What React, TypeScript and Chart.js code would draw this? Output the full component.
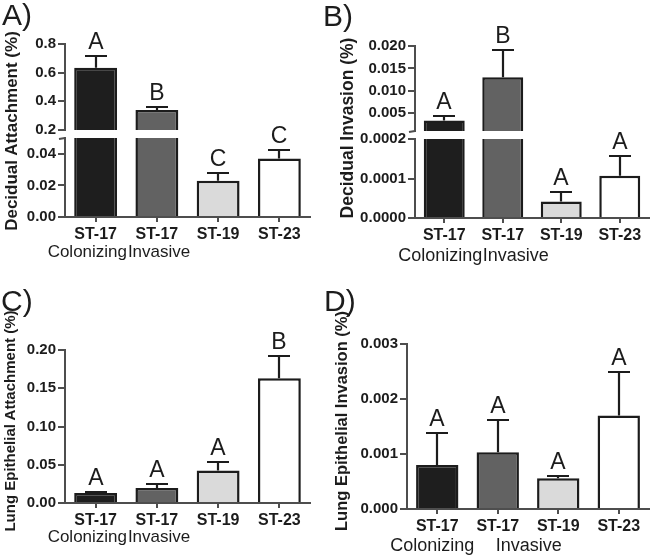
import React, { useEffect, useRef } from "react";
import { Chart, registerables } from "chart.js";

Chart.register(...registerables);

// ---------- data ----------
const categories = ["ST-17", "ST-17", "ST-19", "ST-23"];
const strainGroups = ["Colonizing", "Invasive"];

const decidualAttachment = [0.634, 0.339, 0.023, 0.037];
const decidualAttachmentSem = [0.08, 0.023, 0.005, 0.0055];
const decidualAttachmentGroups = ["A", "B", "C", "C"];

const decidualInvasion = [0.00336, 0.013, 0.000042, 0.000107];
const decidualInvasionSem = [0.00104, 0.0062, 0.000024, 0.00005];
const decidualInvasionGroups = ["A", "B", "A", "A"];

const lungAttachment = [0.013, 0.0196, 0.0426, 0.1632];
const lungAttachmentSem = [0.0015, 0.0056, 0.0104, 0.029];
const lungAttachmentGroups = ["A", "A", "A", "B"];

const lungInvasion = [0.0008, 0.00103, 0.00056, 0.0017];
const lungInvasionSem = [0.00058, 0.00058, 0.00004, 0.00079];
const lungInvasionGroups = ["A", "A", "A", "A"];

const ticksAUpper = [0.2, 0.4, 0.6, 0.8];
const ticksALower = [0, 0.02, 0.04];
const ticksBUpper = [0.005, 0.01, 0.015, 0.02];
const ticksBLower = [0, 0.0001, 0.0002];
const ticksC = [0, 0.05, 0.1, 0.15, 0.2];
const ticksD = [0, 0.001, 0.002, 0.003];

// ---------- styles ----------
const FONT = '"Liberation Sans", Arial, Helvetica, sans-serif';
const INK = "#1c1c1c";
const AXIS = "#4e4e4e";
const BAR_FILLS = ["#1e1e1e", "#626262", "#dadada", "#ffffff"];

type Segment = {
  box: [number, number, number, number];
  area: [number, number, number, number];
  min: number;
  max: number;
  ticks: number[];
  digits: number;
  xAxis: boolean;
  breakTop?: boolean;
  breakBottom?: boolean;
};

type PanelSpec = {
  values: number[];
  sem: number[];
  groups: string[];
  segments: Segment[];
  sub: { size: number; dx: number[]; dy: number };
};

const panels: PanelSpec[] = [
  {
    values: decidualAttachment,
    sem: decidualAttachmentSem,
    groups: decidualAttachmentGroups,
    segments: [
      { box: [0, 15, 325, 130], area: [65, 44, 310, 130], min: 0.2, max: 0.8, ticks: ticksAUpper, digits: 1, xAxis: false },
      { box: [0, 112, 325, 168], area: [65, 138, 310, 217], min: 0, max: 0.05, ticks: ticksALower, digits: 2, xAxis: true, breakTop: true },
    ],
    sub: { size: 17, dx: [-48, -29], dy: 39.5 },
  },
  {
    values: decidualInvasion,
    sem: decidualInvasionSem,
    groups: decidualInvasionGroups,
    segments: [
      { box: [325, 15, 325, 130], area: [415, 46, 649, 131], min: 0.001, max: 0.02, ticks: ticksBUpper, digits: 3, xAxis: false, breakBottom: true },
      { box: [325, 112, 325, 168], area: [415, 139, 649, 218], min: 0, max: 0.0002, ticks: ticksBLower, digits: 4, xAxis: true },
    ],
    sub: { size: 18, dx: [-46, -20], dy: 42.5 },
  },
  {
    values: lungAttachment,
    sem: lungAttachmentSem,
    groups: lungAttachmentGroups,
    segments: [
      { box: [0, 300, 325, 255], area: [65, 350, 310, 503], min: 0, max: 0.2, ticks: ticksC, digits: 2, xAxis: true },
    ],
    sub: { size: 17, dx: [-48, -29], dy: 38.5 },
  },
  {
    values: lungInvasion,
    sem: lungInvasionSem,
    groups: lungInvasionGroups,
    segments: [
      { box: [325, 300, 325, 255], area: [407, 344, 649, 509], min: 0, max: 0.003, ticks: ticksD, digits: 3, xAxis: true },
    ],
    sub: { size: 18, dx: [-47, -2], dy: 41.5 },
  },
];

const titles = [
  { text: "Decidual Attachment (%)", x: 11, y: 131, size: 17 },
  { text: "Decidual Invasion (%)", x: 348, y: 128, size: 17.5 },
  { text: "Lung Epithelial Attachment (%)", x: 9, y: 421, size: 15 },
  { text: "Lung Epithelial Invasion (%)", x: 341, y: 421, size: 16.5 },
];

const panelLabels = [
  { text: "A)", x: 2, y: 0 },
  { text: "B)", x: 323, y: 1 },
  { text: "C)", x: 1, y: 286 },
  { text: "D)", x: 324, y: 286 },
];

function buildConfig(panel: PanelSpec, seg: Segment): any {
  const [bx, by, bw, bh] = seg.box;
  const [l, t, r, b] = seg.area;
  const yW = l - bx;
  const xH = by + bh - b;
  const padding = {
    left: 0,
    top: t - by,
    right: bx + bw - r,
    bottom: seg.xAxis ? 0 : by + bh - b,
  };

  const annotate = {
    id: "annotate",
    afterDatasetsDraw(chart: any) {
      const ctx = chart.ctx;
      const ys = chart.scales.y;
      const xs = chart.scales.x;
      const meta = chart.getDatasetMeta(0);
      const area = chart.chartArea;
      ctx.save();
      ctx.strokeStyle = INK;
      ctx.fillStyle = INK;
      ctx.lineWidth = 2.2;
      panel.values.forEach((v, i) => {
        if (v < seg.min || v > seg.max) return;
        const x = Math.round(meta.data[i].x);
        const y0 = ys.getPixelForValue(v);
        const y1 = Math.round(ys.getPixelForValue(v + panel.sem[i]));
        ctx.beginPath();
        ctx.moveTo(x, y0);
        ctx.lineTo(x, y1);
        ctx.moveTo(x - 11, y1);
        ctx.lineTo(x + 11, y1);
        ctx.stroke();
        ctx.font = `23px ${FONT}`;
        ctx.textAlign = "center";
        ctx.textBaseline = "alphabetic";
        ctx.fillText(panel.groups[i], x, y1 - 7);
      });
      ctx.strokeStyle = AXIS;
      ctx.lineWidth = 2;
      if (seg.breakTop) {
        ctx.beginPath();
        ctx.moveTo(area.left - 6, area.top + 1);
        ctx.lineTo(area.left, area.top);
        ctx.stroke();
      }
      if (seg.breakBottom) {
        ctx.beginPath();
        ctx.moveTo(area.left - 6, area.bottom + 1);
        ctx.lineTo(area.left, area.bottom);
        ctx.stroke();
      }
      if (seg.xAxis) {
        ctx.fillStyle = INK;
        ctx.font = `${panel.sub.size}px ${FONT}`;
        ctx.textAlign = "left";
        ctx.textBaseline = "alphabetic";
        strainGroups.forEach((g, i) => {
          ctx.fillText(g, xs.getPixelForValue(i) + panel.sub.dx[i], area.bottom + panel.sub.dy);
        });
      }
      ctx.restore();
    },
  };

  return {
    type: "bar",
    data: {
      labels: categories,
      datasets: [
        {
          data: panel.values,
          backgroundColor: BAR_FILLS,
          borderColor: INK,
          borderWidth: 2.5,
          borderSkipped: "start",
          barPercentage: 0.7,
          categoryPercentage: 1,
          clip: 0,
        },
      ],
    },
    options: {
      animation: false,
      responsive: false,
      devicePixelRatio: 1,
      events: [],
      layout: { padding },
      plugins: { legend: { display: false }, tooltip: { enabled: false } },
      scales: {
        x: {
          type: "category",
          display: seg.xAxis,
          offset: true,
          grid: {
            display: true,
            drawOnChartArea: false,
            drawTicks: true,
            tickLength: 5,
            offset: false,
            color: AXIS,
            lineWidth: 2,
          },
          border: { display: true, color: AXIS, width: 2 },
          ticks: {
            color: INK,
            font: { family: FONT, size: 16, weight: "bold" },
            padding: 3,
            maxRotation: 0,
            autoSkip: false,
          },
          afterFit: seg.xAxis
            ? (s: any) => {
                s.height = xH;
              }
            : undefined,
        },
        y: {
          type: "linear",
          min: seg.min,
          max: seg.max,
          grid: {
            display: true,
            drawOnChartArea: false,
            drawTicks: true,
            tickLength: 7,
            color: AXIS,
            lineWidth: 2,
          },
          border: { display: true, color: AXIS, width: 2 },
          ticks: {
            color: INK,
            font: { family: FONT, size: 15, weight: "bold" },
            padding: 2,
            callback: (v: any) => Number(v).toFixed(seg.digits),
          },
          afterBuildTicks: (s: any) => {
            s.ticks = seg.ticks.map((v) => ({ value: v }));
          },
          afterFit: (s: any) => {
            s.width = yW;
          },
        },
      },
    },
    plugins: [annotate],
  };
}

function SegmentCanvas({ panel, seg }: { panel: PanelSpec; seg: Segment }) {
  const ref = useRef<HTMLCanvasElement | null>(null);
  useEffect(() => {
    if (!ref.current) return;
    const chart = new Chart(ref.current, buildConfig(panel, seg));
    return () => chart.destroy();
  }, [panel, seg]);
  const [bx, by, bw, bh] = seg.box;
  return (
    <canvas
      ref={ref}
      width={bw}
      height={bh}
      style={{ position: "absolute", left: bx, top: by, width: bw, height: bh }}
    />
  );
}

if (typeof document !== "undefined") {
  document.body.style.margin = "0";
}

export default function App() {
  return (
    <div
      style={{
        position: "relative",
        width: 650,
        height: 555,
        background: "#ffffff",
        overflow: "hidden",
      }}
    >
      {panels.map((p, pi) =>
        p.segments.map((s, si) => <SegmentCanvas key={`${pi}-${si}`} panel={p} seg={s} />)
      )}
      {titles.map((t, i) => (
        <div
          key={`t${i}`}
          style={{
            position: "absolute",
            left: t.x,
            top: t.y,
            transform: "translate(-50%, -50%) rotate(-90deg)",
            whiteSpace: "nowrap",
            fontFamily: FONT,
            fontWeight: "bold",
            fontSize: t.size,
            lineHeight: 1,
            color: INK,
          }}
        >
          {t.text}
        </div>
      ))}
      {panelLabels.map((p, i) => (
        <div
          key={`p${i}`}
          style={{
            position: "absolute",
            left: p.x,
            top: p.y,
            fontFamily: FONT,
            fontSize: 30,
            lineHeight: "30px",
            color: INK,
          }}
        >
          {p.text}
        </div>
      ))}
    </div>
  );
}
